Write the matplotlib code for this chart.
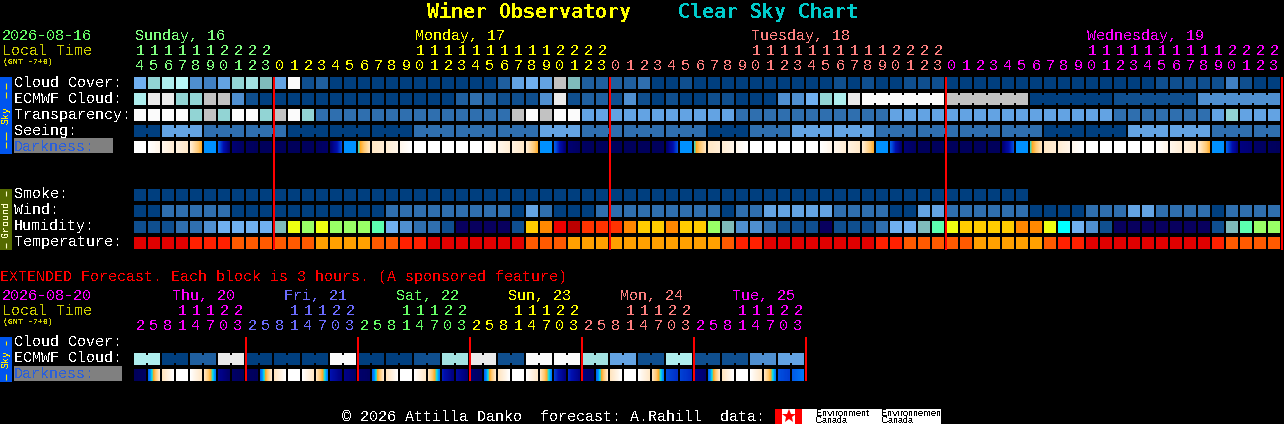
#!/usr/bin/env python

import numpy as np
from matplotlib import pyplot as plt
from matplotlib.colors import LinearSegmentedColormap
from matplotlib.patches import Rectangle

""" Clear sky chart, drawn block by block on a pixel sized axes """

# colour steps shared by the blue rows, index = level in the lists below
SKY_COLORS = ['#003f7f', '#0f4f8f', '#1f5f9f', '#2f6faf', '#4080c4', '#4f8fd0',
              '#63a3e3', '#70b0f0', '#7fbbbb', '#92d4d4', '#a2e2e2', '#aeeeee',
              '#b8f8f8', '#c2c2c2', '#eaeaea', '#fbfbfb']

HUMIDITY_COLORS = {'n': '#08005e', '1': '#0f4f8f', '3': '#2f6faf', '5': '#4f8fd0',
                   '7': '#70b0f0', 't': '#7fbbbb', 'm': '#5cffb0', 'g': '#99ff66',
                   'y': '#eeff11', 'a': '#ffcc00', 'o': '#ff8800', 'f': '#ff3300',
                   'r': '#ee0000', 'd': '#bb0000', 'c': '#00ffff'}

TEMP_COLORS = {'r': '#e00000', 'f': '#ff2000', 'o': '#ff5a00', 'a': '#ffa000'}

# main forecast, one value per hour
CLOUD_COVER = [7, 9, 11, 12, 5, 4, 6, 9, 10, 8, 6, 15, 1, 2, 0, 0, 0, 0, 0, 0,
               0, 0, 0, 0, 0, 0, 2, 6, 7, 6, 13, 8, 2, 2, 2, 2, 3, 0, 0, 1,
               0, 0, 0, 0, 0, 0, 0, 0, 0, 0, 1, 0, 1, 0, 0, 1, 1, 1, 0, 0,
               0, 0, 0, 0, 0, 0, 0, 0, 0, 0, 0, 0, 0, 1, 1, 1, 1, 1, 4, 1,
               0, 0]
ECMWF_CLOUD = [11, 14, 14, 9, 9, 13, 13, 5, 1, 0, 0, 0, 0, 0, 0, 0, 0, 0, 0, 0,
               0, 0, 0, 2, 3, 2, 1, 1, 1, 5, 14, 1, 2, 2, 1, 5, 1, 0, 1, 0,
               0, 1, 1, 0, 0, 0, 5, 5, 7, 9, 11, 14, 15, 15, 15, 15, 15, 15, 13, 13,
               13, 13, 13, 13, 0, 0, 0, 0, 0, 0, 1, 1, 1, 1, 1, 1, 5, 5, 5, 5,
               5, 5]
TRANSPARENCY = [15, 15, 15, 15, 9, 13, 9, 15, 15, 9, 13, 15, 9, 3, 3, 3, 3, 3, 3, 3,
                3, 3, 3, 3, 3, 3, 3, 13, 15, 13, 15, 15, 6, 6, 6, 6, 6, 6, 6, 6,
                6, 6, 6, 3, 3, 3, 3, 3, 3, 3, 3, 3, 3, 3, 6, 6, 6, 6, 6, 6,
                6, 6, 6, 6, 6, 6, 6, 6, 6, 6, 3, 3, 3, 3, 3, 3, 3, 6, 9, 6,
                6, 6]
# seeing comes in 3 hour blocks, the first one is cut to 2 hours and so is the last
SEEING_BLOCKS = [0, 6, 3, 3, 0, 0, 0, 3, 3, 3, 6, 3, 3, 3, 0, 3, 6, 6, 3, 3, 3, 3, 0, 0,
                 6, 6, 3, 3]
DARK_START = [1, 1, .96, .93, .9, .45, .33, .06, .03, .02, .02, .02, .02, .03, .05, .45, .55, .86, .9, .96,
              1, 1, 1, 1, 1, 1, .96, .93, .9, .45, .33, .06, .03, .02, .02, .02, .02, .02, .05, .45,
              .55, .86, .9, .96, 1, 1, 1, 1, 1, 1, .96, .93, .9, .45, .33, .06, .02, .02, .02, .02,
              .02, .02, .05, .45, .55, .86, .9, .96, 1, 1, 1, 1, 1, 1, .96, .93, .9, .45, .33, .08,
              .04, .03]
DARK_END = [1, .95, .9, .87, .62, .45, .05, .03, .02, .02, .02, .02, .02, .04, .3, .45, .85, .9, .95, 1,
            1, 1, 1, 1, 1, .95, .9, .87, .62, .45, .05, .03, .02, .02, .02, .02, .02, .02, .3, .45,
            .85, .9, .95, 1, 1, 1, 1, 1, 1, .95, .9, .87, .62, .45, .05, .03, .02, .02, .02, .02,
            .02, .02, .3, .45, .85, .9, .95, 1, 1, 1, 1, 1, 1, .95, .9, .87, .62, .45, .08, .06,
            .03, .02]
SMOKE = [0] * 64
WIND = [0, 0, 3, 3, 3, 3, 3, 0, 0, 0, 0, 0, 0, 0, 0, 0, 0, 0, 3, 3,
        3, 3, 3, 3, 3, 3, 3, 0, 6, 3, 0, 0, 0, 3, 3, 3, 3, 3, 3, 3,
        3, 3, 0, 3, 3, 6, 6, 6, 6, 6, 3, 3, 3, 3, 0, 0, 6, 6, 3, 3,
        3, 3, 3, 3, 0, 0, 0, 0, 3, 3, 3, 6, 6, 3, 3, 3, 3, 0, 3, 3,
        3, 3]
HUMIDITY = list("1113357777" "tygygggm75" "331nnnn1ao" "rdfffoaaoa" "agt5531"
                "11n11" "13" "77tm" "yaaaaoo" "yc751" "nnnnnnn" "1tmgg")
TEMPERATURE = list("rrrrfffooooooaaaaooff" "rrrrrrrooo" "aaaaaaaaaaaoff" "rrrrrrrr"
                   "ffoooooaaaaaoff" "rrrrrrrrrfoooo")

HOURS = [14 + i for i in range(82)]
DAY_LABELS = ['Sunday, 16', 'Monday, 17', 'Tuesday, 18', 'Wednesday, 19']
DAY_COLS = [0, 20, 44, 68]
DAY_COLORS = ['#80ff80', '#ffff00', '#ff8080', '#ff00ff']
DAY_BREAKS = [10, 34, 58, 82]

# extended forecast, blocks of 3 hours
EXT_ECMWF = [11, 0, 2, 14, 0, 0, 0, 15, 0, 0, 1, 10, 14, 1, 15, 15, 10, 6, 1, 11, 1, 1, 5, 6]
EXT_DARK_START = [.02, .36, .85, 1, 1, .85, .12, .04,
                  .03, .36, .85, 1, 1, .85, .2, .1,
                  .05, .36, .85, 1, 1, .85, .22, .16,
                  .06, .36, .85, 1, 1, .85, .27, .24,
                  .08, .36, .85, 1, 1, .85, .29, .28,
                  .1, .36, .85, 1, 1, .85, .3, .33]
EXT_DARK_END = [.03, .88, 1, 1, .87, .42, .04, .02,
                .02, .88, 1, 1, .87, .42, .08, .04,
                .03, .88, 1, 1, .87, .42, .08, .05,
                .03, .88, 1, 1, .87, .42, .08, .1,
                .05, .88, 1, 1, .87, .42, .25, .24,
                .05, .88, 1, 1, .87, .42, .27, .4]
EXT_HOURS = [2, 5, 8, 11, 14, 17, 20, 23]
EXT_DAY_LABELS = ['Thu, 20', 'Fri, 21', 'Sat, 22', 'Sun, 23', 'Mon, 24', 'Tue, 25']
EXT_DAY_COLORS = ['#ff00ff', '#6c6cff', '#66ff66', '#ffff00', '#ff8080', '#ff00ff']

MONO = 'Liberation Mono'
BODY = 10.8     # 15 px em, 9 px per character
LEFT = 134      # left edge of the first column
STEP = 14       # column pitch
CELL = 12       # block size

DARK_CMAP = LinearSegmentedColormap.from_list('darkness', [
    (0, '#000050'), (.08, '#000080'), (.2, '#0010b0'), (.3, '#0050e0'),
    (.42, '#0080ff'), (.45, '#0090ff'), (.52, '#00e0f0'), (.56, '#60d0a0'),
    (.6, '#ffa820'), (.7, '#ffc870'), (.87, '#ffe8c8'), (.95, '#fff5e8'),
    (1, '#ffffff')])


def col_x(col):
    """ left edge of a column in pixels """
    return LEFT + STEP * col


def text(ax, x, y, s, color='white', size=BODY, **kwargs):
    """ text with its baseline at pixel y """
    ax.text(x, y, s, color=color, fontsize=size, family=kwargs.pop('family', MONO),
            va='baseline', ha=kwargs.pop('ha', 'left'), **kwargs)


def block(ax, x, y, w, h, color):
    ax.add_patch(Rectangle((x, y), w, h, facecolor=color, edgecolor='none', linewidth=0))


def draw_row(ax, colors, y):
    """ one row of solid blocks """
    for col, color in enumerate(colors):
        block(ax, col_x(col), y, CELL, CELL, color)


def draw_bridges(ax, colors, y, first, size, inset):
    """ join the blocks of a forecast period over the gap between them """
    for col in range(len(colors) - 1):
        if col >= first and (col - first) % size != size - 1:
            block(ax, col_x(col) + CELL, y + inset, STEP - CELL, CELL - 2 * inset, colors[col])


def draw_gradient_row(ax, start, end, y):
    """ darkness blocks, each one fades from its start to its end value """
    for col, (a, b) in enumerate(zip(start, end)):
        vals = np.linspace(a, b, CELL).reshape(1, -1)
        ax.imshow(vals, cmap=DARK_CMAP, vmin=0, vmax=1, aspect='auto', interpolation='nearest',
                  extent=(col_x(col), col_x(col) + CELL, y + CELL, y))


def draw_hours(ax, hours, colors, y_tens, y_units):
    """ two lines of hour digits over the columns """
    for col, hour in enumerate(hours):
        hour = hour % 24
        x = col_x(col) + CELL / 2
        if hour >= 10:
            text(ax, x, y_tens, str(hour // 10), colors[col], ha='center')
        text(ax, x, y_units, str(hour % 10), colors[col], ha='center')


def side_bar(ax, y0, y1, color, label, text_color, label_y, dashes):
    """ coloured strip on the left with a rotated name """
    block(ax, 0, y0, 12, y1 - y0, color)
    ax.text(6, label_y, label, color=text_color, fontsize=7.2, family=MONO, rotation=90,
            ha='center', va='center')
    for d0, d1 in dashes:
        ax.plot([5.5, 5.5], [d0, d1], color=text_color, lw=.8, solid_capstyle='butt')


def main():
    """ main body """
    plt.rcParams['text.antialiased'] = False
    plt.rcParams['text.hinting'] = 'native'
    plt.rcParams['text.hinting_factor'] = 1
    fig = plt.figure(figsize=(12.84, 4.24), dpi=100, facecolor='black')
    ax = fig.add_axes([0, 0, 1, 1])
    ax.set_facecolor('black')
    ax.axis('off')

    # title
    text(ax, 427, 18, 'Winer Observatory', '#ffff00', 14.4, weight='bold', family='DejaVu Sans Mono')
    text(ax, 678, 18, 'Clear Sky Chart', '#00cccc', 14.4, weight='bold', family='DejaVu Sans Mono')

    # header of the main chart
    text(ax, 2, 40, '2026-08-16', '#66ff66')
    text(ax, 2, 55, 'Local Time', '#cccc00')
    text(ax, 3, 64.5, '(GMT -7+0)', '#cccc00', 5.8, weight='bold')
    for label, col, color in zip(DAY_LABELS, DAY_COLS, DAY_COLORS):
        text(ax, col_x(col) + 1, 40, label, color)
    hour_colors = []
    prev = 0
    for brk, color in zip(DAY_BREAKS, DAY_COLORS):
        hour_colors += [color] * (brk - prev)
        prev = brk
    draw_hours(ax, HOURS, hour_colors, 55, 70)

    # sky rows
    for name, y in zip(['Cloud Cover:', 'ECMWF Cloud:', 'Transparency:', 'Seeing:'], [87, 103, 119, 135]):
        text(ax, 14, y, name)
    block(ax, 14, 138, 99, 15, '#808080')
    text(ax, 14, 151, 'Darkness:', '#2a5fdc')
    side_bar(ax, 77, 154, '#0055ee', 'Sky', '#ffee00', 115.5, [(83, 89), (92, 98), (132, 140), (142, 148)])

    cloud = [SKY_COLORS[v] for v in CLOUD_COVER]
    draw_row(ax, cloud, 77)
    ecmwf = [SKY_COLORS[v] for v in ECMWF_CLOUD]
    draw_row(ax, ecmwf, 93)
    draw_bridges(ax, ecmwf, 93, 52, 6, 2)
    draw_row(ax, [SKY_COLORS[v] for v in TRANSPARENCY], 109)
    seeing = []
    for i, v in enumerate(SEEING_BLOCKS):
        seeing += [SKY_COLORS[v]] * (2 if i in (0, len(SEEING_BLOCKS) - 1) else 3)
    draw_row(ax, seeing, 125)
    draw_bridges(ax, seeing, 125, 2, 3, 3)
    block(ax, col_x(0) + CELL, 128, STEP - CELL, 6, seeing[0])
    draw_gradient_row(ax, DARK_START, DARK_END, 141)

    # ground rows
    for name, y in zip(['Smoke:', 'Wind:', 'Humidity:', 'Temperature:'], [198, 214, 230, 246]):
        text(ax, 14, y, name)
    side_bar(ax, 189, 250, '#556b00', 'Ground', '#ffffcc', 219, [(191, 196), (243, 248)])
    draw_row(ax, [SKY_COLORS[v] for v in SMOKE], 189)
    draw_row(ax, [SKY_COLORS[v] for v in WIND], 205)
    draw_row(ax, [HUMIDITY_COLORS[v] for v in HUMIDITY], 221)
    draw_row(ax, [TEMP_COLORS[v] for v in TEMPERATURE], 237)

    # midnight markers
    for brk in DAY_BREAKS:
        block(ax, col_x(brk) - 1, 77, 2, 173, '#ff0000')

    # extended forecast
    text(ax, 0, 281, 'EXTENDED Forecast. Each block is 3 hours. (A sponsored feature)', '#ff0000')
    text(ax, 2, 300, '2026-08-20', '#ff00ff')
    text(ax, 2, 315, 'Local Time', '#cccc00')
    text(ax, 3, 324.5, '(GMT -7+0)', '#cccc00', 5.8, weight='bold')
    ext_colors = []
    for day, (label, color) in enumerate(zip(EXT_DAY_LABELS, EXT_DAY_COLORS)):
        text(ax, col_x(8 * day) + 38, 300, label, color)
        ext_colors += [color] * len(EXT_HOURS)
    draw_hours(ax, EXT_HOURS * len(EXT_DAY_LABELS), ext_colors, 315, 330)

    for name, y in zip(['Cloud Cover:', 'ECMWF Cloud:'], [346, 362]):
        text(ax, 14, y, name)
    block(ax, 14, 366, 108, 15, '#808080')
    text(ax, 14, 378, 'Darkness:', '#2a5fdc')
    side_bar(ax, 337, 382, '#0055ee', 'Sky', '#ffee00', 359.5, [(341, 345), (374, 380)])

    ext_cloud = []
    for v in EXT_ECMWF:
        ext_cloud += [SKY_COLORS[v]] * 2
    draw_row(ax, ext_cloud, 353)
    draw_bridges(ax, ext_cloud, 353, 0, 2, 2)
    draw_gradient_row(ax, EXT_DARK_START, EXT_DARK_END, 369)
    for day in range(1, len(EXT_DAY_LABELS) + 1):
        block(ax, col_x(8 * day) - 1, 337, 2, 44, '#ff0000')

    # footer
    text(ax, 342, 421, '\u00a9 2026 Attilla Danko  forecast: A.Rahill  data:')
    block(ax, 775, 409, 166, 15, 'white')
    block(ax, 775, 409, 7, 15, '#ff0000')
    block(ax, 795, 409, 7, 15, '#ff0000')
    ax.plot([788.5], [416], marker='*', color='#ff0000', ms=10, mew=0)
    for x, first in [(816, 'Environment'), (881, 'Environnement')]:
        ax.text(x, 416, first, color='black', fontsize=6.2, family='Liberation Sans', va='baseline')
        ax.text(x, 423, 'Canada', color='black', fontsize=6.2, family='Liberation Sans', va='baseline')

    ax.set_xlim(0, 1284)
    ax.set_ylim(424, 0)
    fig.savefig('out.png', dpi=100, facecolor='black')


if __name__ == '__main__':
    main()
